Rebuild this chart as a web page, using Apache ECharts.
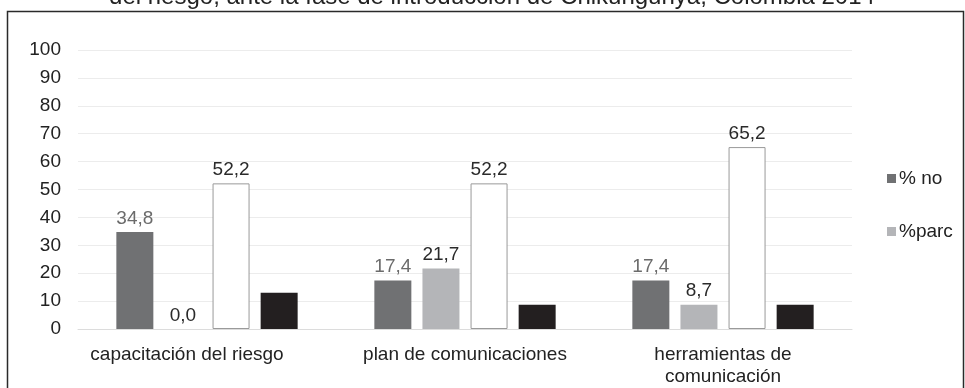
<!DOCTYPE html>
<html><head><meta charset="utf-8">
<script src="https://cdn.jsdelivr.net/npm/echarts@6/dist/echarts.min.js"></script>
<style>html,body{margin:0;padding:0;background:#fff}#c{width:965px;height:388px}</style>
</head><body><div id="c"></div>
<script>
const categories = ['capacitación del riesgo', 'plan de comunicaciones', 'herramientas de\ncomunicación'];
const seriesNames = ['% no', '%parc', '% si', '% ns'];
const valNo = [34.8, 17.4, 17.4];
const valParc = [0.0, 21.7, 8.7];
const valSi = [52.2, 52.2, 65.2];
const valNs = [13.0, 8.7, 8.7];
const yTicks = [0, 10, 20, 30, 40, 50, 60, 70, 80, 90, 100];
const titleText = 'del riesgo, ante la fase de introducción de Chikungunya, Colombia 2014';

const font = 'Liberation Sans, Arial, sans-serif';
const fs = 19;
const fmt = p => p.value.toFixed(1).replace('.', ',');
const chart = echarts.init(document.getElementById('c'));
const mk = (name, data, color, border, labelColor, showLabel) => ({
  name, type: 'bar', data, barWidth: 37, barGap: '30%',
  itemStyle: { color, borderColor: border, borderWidth: border ? 1 : 0 },
  label: { show: showLabel, position: 'top', distance: 4, formatter: fmt,
    color: labelColor, fontFamily: font, fontSize: fs },
  emphasis: { disabled: true }
});
const catData = categories.map((c, i) => i === 0
  ? { value: c, textStyle: { padding: [0, 40, 0, 0] } } : c);
chart.setOption({
  animation: false,
  graphic: [
    { type: 'rect', shape: { x: 7.5, y: 11.5, width: 956, height: 390 },
      style: { fill: 'none', stroke: '#2a2a2a', lineWidth: 1.5 } },
    { type: 'text', x: 492, y: -15, style: { text: titleText, fill: '#222',
      font: '24px ' + font, textAlign: 'center', textVerticalAlign: 'top' } }
  ],
  legend: {
    data: [seriesNames[0], seriesNames[1]], orient: 'vertical', left: 882, top: 164,
    itemWidth: 9, itemHeight: 9, itemGap: 34, icon: 'rect',
    textStyle: { fontFamily: font, fontSize: fs, color: '#222', padding: [0, 0, 0, -2] }
  },
  grid: { left: 78, right: 113, top: 50, bottom: 58 },
  xAxis: {
    type: 'category', data: catData,
    axisLine: { show: true, lineStyle: { color: '#dcdcdc' } },
    axisTick: { show: false },
    axisLabel: { fontFamily: font, fontSize: fs, color: '#222', margin: 15, lineHeight: 22, interval: 0 }
  },
  yAxis: {
    type: 'value', min: yTicks[0], max: yTicks[yTicks.length - 1], interval: 10,
    axisLine: { show: false }, axisTick: { show: false },
    axisLabel: { fontFamily: font, fontSize: fs, color: '#222', margin: 17 },
    splitLine: { lineStyle: { color: '#ececec', width: 1 } }
  },
  series: [
    mk(seriesNames[0], valNo, '#707173', null, '#6b6b6b', true),
    mk(seriesNames[1], valParc, '#b4b5b8', null, '#2a2a2a', true),
    mk(seriesNames[2], valSi, '#ffffff', '#9a9a9a', '#2a2a2a', true),
    mk(seriesNames[3], valNs, '#231f20', null, '#2a2a2a', false)
  ]
});
</script></body></html>
